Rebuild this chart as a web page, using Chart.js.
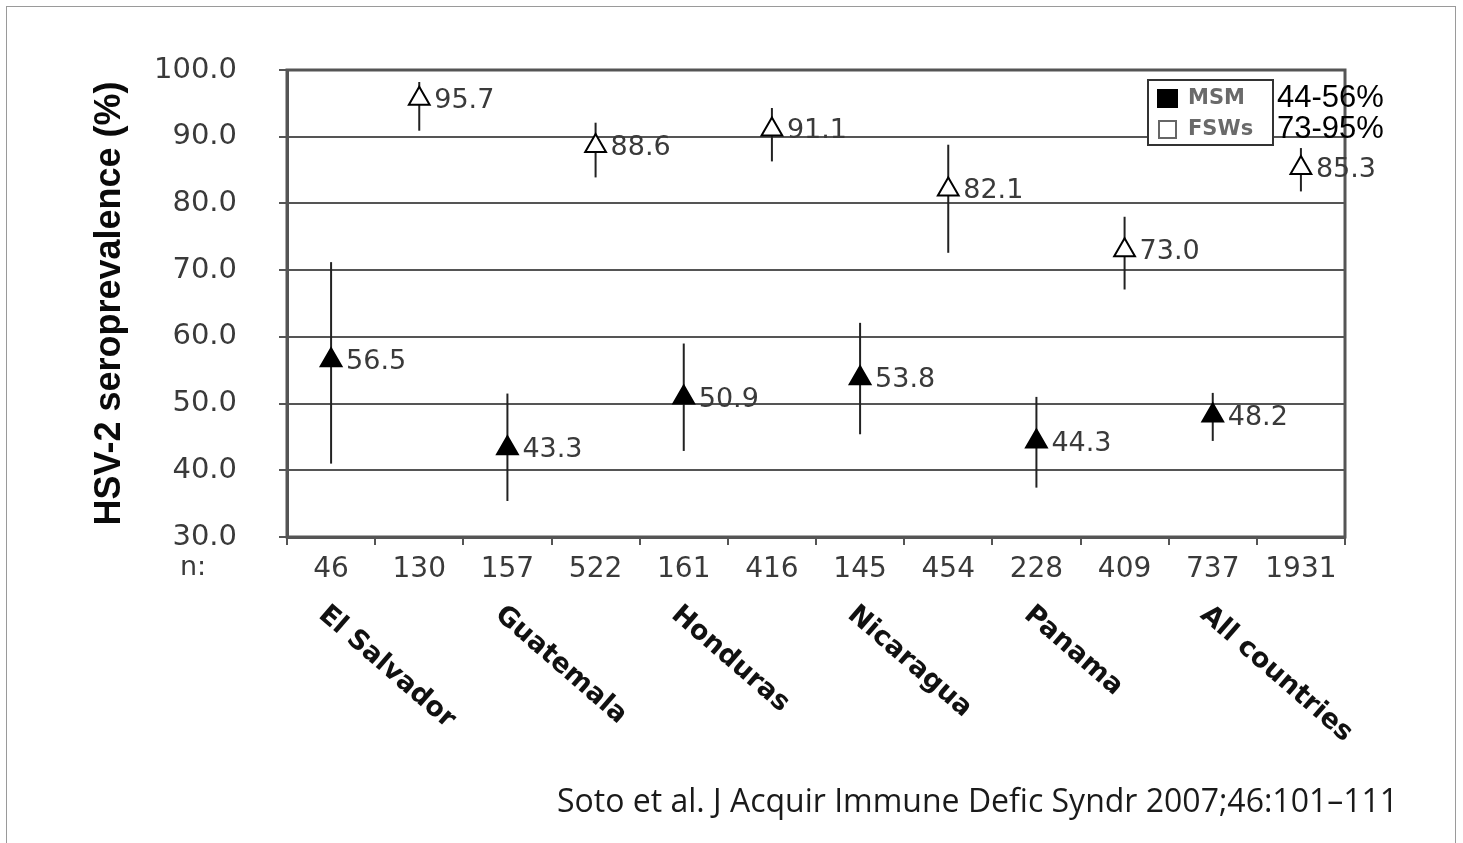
<!DOCTYPE html>
<html>
<head>
<meta charset="utf-8">
<script src="https://cdn.jsdelivr.net/npm/chart.js@4.4.1/dist/chart.umd.min.js"></script>
<style>
  html, body { margin: 0; padding: 0; background: #fff; }
  #wrap { position: relative; width: 1463px; height: 843px; overflow: hidden; }
  #frame { position: absolute; left: 6px; top: 6px; width: 1448px; height: 860px; border: 1px solid #9a9a9a; }
  #chart { position: absolute; left: 0; top: 0; }
  #cite { position: absolute; left: 557px; top: 778px; font: 32px/44px 'Open Sans', sans-serif; color: #1a1a1a; white-space: nowrap; }
</style>
</head>
<body>
<div id="wrap">
  <div id="frame"></div>
  <canvas id="chart" width="1463" height="843"></canvas>
  <div id="cite">Soto et al. J Acquir Immune Defic Syndr 2007;46:101–111</div>
</div>
<script>
(function () {
  "use strict";

  // ── Data ───────────────────────────────────
  const COUNTRIES = ["El Salvador", "Guatemala", "Honduras", "Nicaragua", "Panama", "All countries"];
  const N_MSM     = [46, 157, 161, 145, 228, 737];
  const N_FSW     = [130, 522, 416, 454, 409, 1931];
  const MSM_PREV  = [56.5, 43.3, 50.9, 53.8, 44.3, 48.2];
  const MSM_LOW   = [41.0, 35.4, 42.9, 45.4, 37.4, 44.4];
  const MSM_HIGH  = [71.2, 51.5, 59.0, 62.1, 51.0, 51.6];
  const FSW_PREV  = [95.7, 88.6, 91.1, 82.1, 73.0, 85.3];
  const FSW_LOW   = [90.9, 83.9, 86.3, 72.6, 67.1, 81.8];
  const FSW_HIGH  = [98.2, 92.1, 94.3, 88.8, 78.0, 88.3];
  const SERIES    = ["MSM", "FSWs"];
  const RANGES    = ["44-56%", "73-95%"];
  const Y_MIN = 30, Y_MAX = 100, Y_STEP = 10;

  // ── Style ──────────────────────────────────
  const GRAY_TEXT  = "#3a3a3a";
  const LINE       = "#555";
  const LABEL_FONT = "27px 'DejaVu Sans', sans-serif";

  // interleave MSM / FSW per country
  const labels = [], msm = [], fsw = [], msmLo = [], msmHi = [], fswLo = [], fswHi = [];
  COUNTRIES.forEach((c, i) => {
    labels.push(String(N_MSM[i]), String(N_FSW[i]));
    msm.push(MSM_PREV[i], null);
    fsw.push(null, FSW_PREV[i]);
    msmLo.push(MSM_LOW[i], null);
    msmHi.push(MSM_HIGH[i], null);
    fswLo.push(null, FSW_LOW[i]);
    fswHi.push(null, FSW_HIGH[i]);
  });

  // ══════════════════════════════════════════
  // Plugins
  // ══════════════════════════════════════════
  const frameAndBars = {
    id: "frameAndBars",
    beforeDatasetsDraw(chart) {
      const { ctx, chartArea: a, scales: { x, y } } = chart;
      ctx.save();
      ctx.strokeStyle = LINE;
      ctx.lineWidth = 3;
      ctx.strokeRect(a.left, a.top, a.right - a.left, a.bottom - a.top);

      // error bars
      ctx.strokeStyle = "#222";
      ctx.lineWidth = 2;
      chart.data.datasets.forEach((ds) => {
        ds.errLow.forEach((lo, i) => {
          if (lo == null) return;
          const px = x.getPixelForValue(i);
          ctx.beginPath();
          ctx.moveTo(px, y.getPixelForValue(lo));
          ctx.lineTo(px, y.getPixelForValue(ds.errHigh[i]));
          ctx.stroke();
        });
      });
      ctx.restore();
    },
    afterDatasetsDraw(chart) {
      const { ctx, chartArea: a } = chart;
      ctx.save();
      // value labels
      ctx.font = LABEL_FONT;
      ctx.fillStyle = GRAY_TEXT;
      ctx.textBaseline = "middle";
      ctx.textAlign = "left";
      chart.data.datasets.forEach((ds, d) => {
        const meta = chart.getDatasetMeta(d);
        ds.data.forEach((v, i) => {
          if (v == null) return;
          const pt = meta.data[i];
          ctx.fillText(v.toFixed(1), pt.x + 15, pt.y + 2);
        });
      });

      // legend box
      const bx = a.right - 197, by = a.top + 10, bw = 125, bh = 65;
      ctx.fillStyle = "#fff";
      ctx.fillRect(bx, by, bw, bh);
      ctx.strokeStyle = "#333";
      ctx.lineWidth = 2;
      ctx.strokeRect(bx, by, bw, bh);
      ctx.font = "bold 21px 'DejaVu Sans', sans-serif";
      SERIES.forEach((s, k) => {
        const cy = by + 18 + k * 31;
        if (k === 0) {
          ctx.fillStyle = "#000";
          ctx.fillRect(bx + 9, cy - 9, 21, 19);
        } else {
          ctx.strokeStyle = "#666";
          ctx.lineWidth = 2;
          ctx.strokeRect(bx + 11, cy - 8, 17, 17);
        }
        ctx.fillStyle = "#6a6a6a";
        ctx.fillText(s, bx + 40, cy + 1);
      });

      // ranges beside the legend
      ctx.fillStyle = "#000";
      ctx.font = "31px 'Liberation Sans', Arial, sans-serif";
      RANGES.forEach((r, k) => {
        ctx.fillText(r, bx + bw + 4, by + 18 + k * 31);
      });
      ctx.restore();
    },
    afterDraw(chart) {
      const { ctx, scales: { x } } = chart;
      ctx.save();
      // "n:" label
      ctx.font = LABEL_FONT;
      ctx.fillStyle = GRAY_TEXT;
      ctx.textAlign = "left";
      ctx.textBaseline = "middle";
      ctx.fillText("n:", 180, x.top + 31);

      // country labels
      ctx.font = "bold 27px 'DejaVu Sans', sans-serif";
      ctx.fillStyle = "#111";
      ctx.textBaseline = "top";
      COUNTRIES.forEach((c, i) => {
        const px = x.getPixelForValue(i * 2);
        ctx.save();
        ctx.translate(px, x.bottom + 4);
        ctx.rotate(41 * Math.PI / 180);
        ctx.fillText(c, 0, 0);
        ctx.restore();
      });
      ctx.restore();
    }
  };

  // ══════════════════════════════════════════
  // Chart
  // ══════════════════════════════════════════
  const pointCommon = {
    showLine: false,
    pointStyle: "triangle",
    pointRadius: 12,
    pointHoverRadius: 12,
    pointBorderWidth: 2,
    pointBorderColor: "#000"
  };

  new Chart(document.getElementById("chart"), {
    type: "line",
    data: {
      labels,
      datasets: [
        Object.assign({ label: SERIES[0], data: msm, errLow: msmLo, errHigh: msmHi,
          pointBackgroundColor: "#000" }, pointCommon),
        Object.assign({ label: SERIES[1], data: fsw, errLow: fswLo, errHigh: fswHi,
          pointBackgroundColor: "#fff" }, pointCommon)
      ]
    },
    options: {
      responsive: false,
      animation: false,
      layout: { padding: { left: 78, top: 70, right: 118, bottom: 246 } },
      plugins: { legend: { display: false }, tooltip: { enabled: false } },
      scales: {
        x: {
          type: "category",
          offset: true,
          afterFit: (s) => { s.height = 60; },
          grid: { display: true, offset: true, drawOnChartArea: false, tickLength: 8, color: LINE, lineWidth: 2 },
          border: { display: true, color: LINE, width: 3 },
          ticks: { color: GRAY_TEXT, font: { family: "'DejaVu Sans', sans-serif", size: 28 }, padding: 8, maxRotation: 0, autoSkip: false }
        },
        y: {
          min: Y_MIN,
          max: Y_MAX,
          afterFit: (s) => { s.width = 209; },
          grid: { color: LINE, lineWidth: 2, tickLength: 8 },
          border: { display: true, color: LINE, width: 3 },
          ticks: {
            stepSize: Y_STEP,
            color: GRAY_TEXT,
            padding: 42,
            font: { family: "'DejaVu Sans', sans-serif", size: 29 },
            callback: (v) => Number(v).toFixed(1)
          },
          title: {
            display: true,
            text: "HSV-2 seroprevalence (%)",
            color: "#0a0a0a",
            padding: { top: 10, bottom: 0 },
            font: { family: "'Liberation Sans', Arial, sans-serif", size: 36, weight: "bold" }
          }
        }
      }
    },
    plugins: [frameAndBars]
  });
})();
</script>
</body>
</html>
